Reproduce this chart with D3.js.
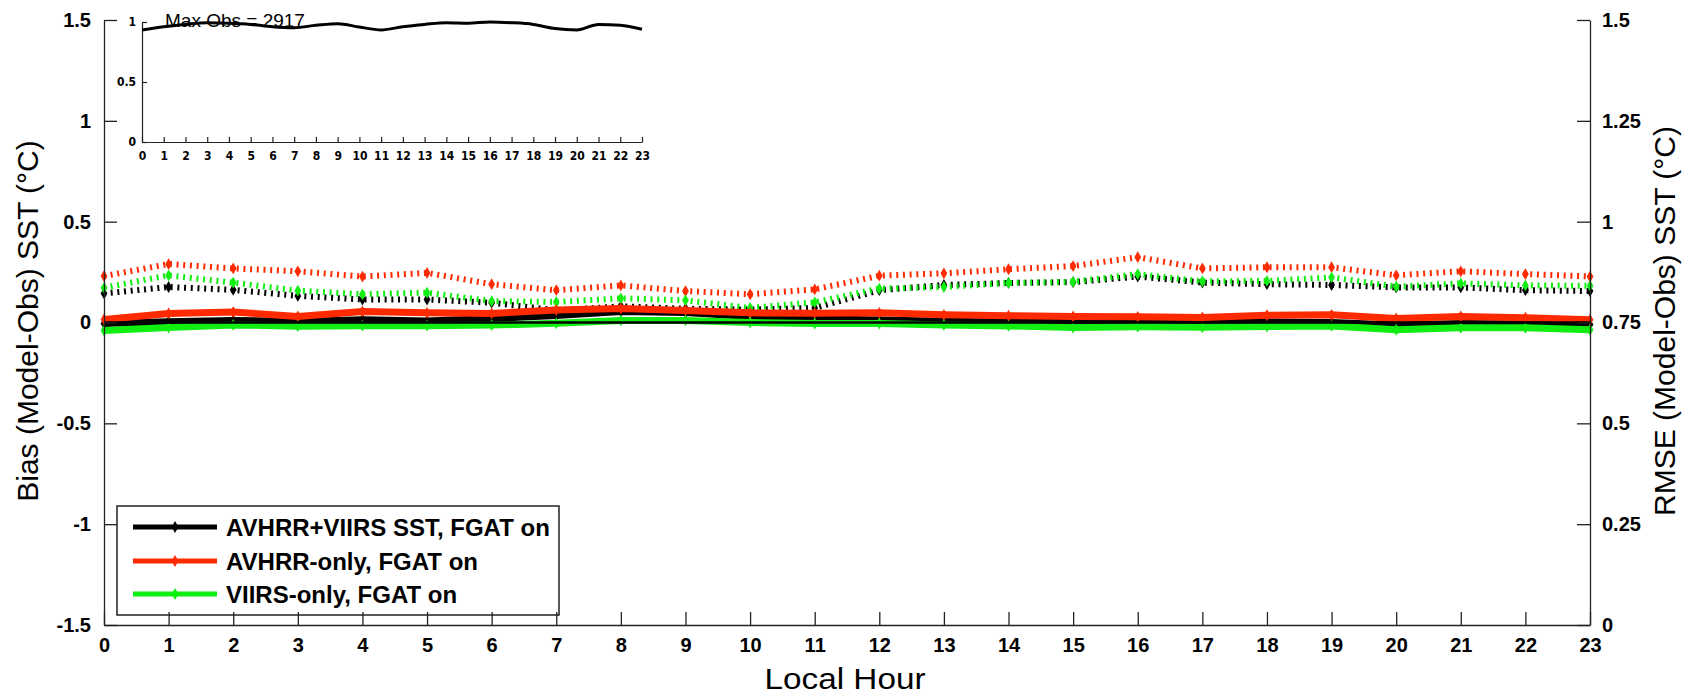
<!DOCTYPE html>
<html>
<head>
<meta charset="utf-8">
<script src="https://cdn.jsdelivr.net/npm/d3@7"></script>
<style>
  body { margin: 0; background: #fff; }
  svg { display: block; }
  text { font-family: "Liberation Sans", Arial, sans-serif; }
</style>
</head>
<body>
<div id="chart"></div>
<script>
let hours = [0, 1, 2, 3, 4, 5, 6, 7, 8, 9, 10, 11, 12, 13, 14, 15, 16, 17, 18, 19, 20, 21, 22, 23];

// bias (left axis), solid lines
let biasAll   = [-0.005, 0.004, 0.010, 0.005, 0.014, 0.008, 0.020, 0.035, 0.055, 0.050, 0.030, 0.018, 0.012, 0.006, 0.003, 0.000, 0.000, 0.000, 0.003, 0.000, -0.012, -0.005, -0.008, -0.010];
let biasAvhrr = [0.015, 0.045, 0.052, 0.030, 0.055, 0.048, 0.045, 0.062, 0.070, 0.060, 0.048, 0.046, 0.048, 0.038, 0.034, 0.030, 0.028, 0.025, 0.036, 0.038, 0.020, 0.030, 0.024, 0.014];
let biasViirs = [-0.040, -0.025, -0.012, -0.018, -0.016, -0.016, -0.013, -0.004, 0.010, 0.010, 0.000, -0.005, -0.005, -0.012, -0.017, -0.025, -0.021, -0.024, -0.020, -0.017, -0.036, -0.026, -0.026, -0.036];

// rmse (right axis), dotted lines
let rmseAll   = [0.822, 0.838, 0.831, 0.816, 0.807, 0.807, 0.799, 0.780, 0.790, 0.784, 0.782, 0.786, 0.830, 0.843, 0.848, 0.850, 0.864, 0.849, 0.845, 0.843, 0.837, 0.837, 0.830, 0.828];
let rmseAvhrr = [0.865, 0.895, 0.884, 0.877, 0.864, 0.873, 0.845, 0.830, 0.842, 0.828, 0.820, 0.832, 0.866, 0.872, 0.882, 0.890, 0.912, 0.884, 0.887, 0.887, 0.867, 0.877, 0.870, 0.864];
let rmseViirs = [0.836, 0.867, 0.849, 0.829, 0.820, 0.824, 0.803, 0.801, 0.810, 0.805, 0.786, 0.800, 0.834, 0.838, 0.848, 0.851, 0.870, 0.852, 0.853, 0.862, 0.839, 0.847, 0.842, 0.841];

// inset: fraction of max obs count
let obsFrac = [0.934, 0.961, 0.980, 0.994, 0.990, 0.980, 0.961, 0.953, 0.972, 0.986, 0.958, 0.934, 0.961, 0.980, 0.994, 0.990, 1.000, 0.994, 0.980, 0.945, 0.934, 0.980, 0.972, 0.939];
let maxObs = 2917;

let leftTicks = [-1.5, -1, -0.5, 0, 0.5, 1, 1.5];
let rightTicks = [0, 0.25, 0.5, 0.75, 1, 1.25, 1.5];
let insetYTicks = [0, 0.5, 1];

let seriesNames = ["AVHRR+VIIRS SST, FGAT on", "AVHRR-only, FGAT on", "VIIRS-only, FGAT on"];
let seriesColors = ["#000000", "#ff2a00", "#11ee11"];

let svg;

function init() {
  svg = d3
    .select("#chart")
    .append("svg")
    .attr("width", 1684)
    .attr("height", 695);
  draw();
}

function draw() {
  let x = d3.scaleLinear().domain([0, 23]).range([104, 1590]);
  let yL = d3.scaleLinear().domain([-1.5, 1.5]).range([625, 20]);
  let yR = d3.scaleLinear().domain([0, 1.5]).range([625, 20]);

  let bias = [biasAll, biasAvhrr, biasViirs];
  let rmse = [rmseAll, rmseAvhrr, rmseViirs];

  // rmse dotted lines
  rmse.forEach(function (vals, i) {
    let pts = hours.map((h, j) => [x(h), yR(vals[j])]);
    svg.append("path")
      .attr("d", d3.line()(pts))
      .attr("fill", "none")
      .attr("stroke", seriesColors[i])
      .attr("stroke-width", 6)
      .attr("stroke-dasharray", "2,4.7");
    drawMarkers(pts, seriesColors[i]);
  });

  // bias solid lines
  bias.forEach(function (vals, i) {
    let pts = hours.map((h, j) => [x(h), yL(vals[j])]);
    svg.append("path")
      .attr("d", d3.line()(pts))
      .attr("fill", "none")
      .attr("stroke", seriesColors[i])
      .attr("stroke-width", 7)
      .attr("stroke-linejoin", "round");
    drawMarkers(pts, seriesColors[i]);
  });

  // zero line
  svg.append("line")
    .attr("x1", x(0)).attr("x2", x(23))
    .attr("y1", yL(0)).attr("y2", yL(0))
    .attr("stroke", "#000")
    .attr("stroke-width", 2.5);

  drawLegend();

  // axes
  let bottom = svg.append("g")
    .attr("transform", "translate(0," + yL(-1.5) + ")")
    .call(d3.axisBottom(x).tickValues(hours).tickSizeInner(-13).tickSizeOuter(0).tickPadding(13).tickFormat(d => String(d)));
  let left = svg.append("g")
    .attr("transform", "translate(" + x(0) + ",0)")
    .call(d3.axisLeft(yL).tickValues(leftTicks).tickSizeInner(-13).tickSizeOuter(0).tickPadding(13).tickFormat(d => String(d)));
  let right = svg.append("g")
    .attr("transform", "translate(" + x(23) + ",0)")
    .call(d3.axisRight(yR).tickValues(rightTicks).tickSizeInner(-13).tickSizeOuter(0).tickPadding(12).tickFormat(d => String(d)));

  [bottom, left, right].forEach(function (g) {
    g.select(".domain").attr("stroke", "#222").attr("stroke-width", 1.3);
    g.selectAll(".tick line").attr("stroke", "#222").attr("stroke-width", 1.3);
    g.selectAll("text")
      .attr("fill", "#000")
      .style("font-family", "'Liberation Sans', Arial, sans-serif")
      .style("font-weight", "bold")
      .style("font-size", "20px");
  });

  // axis titles
  svg.append("text")
    .attr("transform", "translate(30,321) rotate(-90)")
    .attr("text-anchor", "middle")
    .attr("dominant-baseline", "middle")
    .style("font-size", "30px")
    .text("Bias (Model-Obs) SST (\u00b0C)");
  svg.append("text")
    .attr("transform", "translate(1667,321) rotate(-90)")
    .attr("text-anchor", "middle")
    .attr("dominant-baseline", "middle")
    .style("font-size", "30px")
    .text("RMSE (Model-Obs) SST (\u00b0C)");
  svg.append("text")
    .attr("x", 845)
    .attr("y", 689)
    .attr("text-anchor", "middle")
    .attr("textLength", 161)
    .attr("lengthAdjust", "spacingAndGlyphs")
    .style("font-size", "30px")
    .text("Local Hour");

  drawInset();
}

function drawMarkers(pts, color) {
  svg.append("g")
    .selectAll("path")
    .data(pts)
    .enter()
    .append("path")
    .attr("transform", d => "translate(" + d[0] + "," + d[1] + ")")
    .attr("d", d3.symbol().type(d3.symbolDiamond).size(40))
    .attr("fill", color);
}

function drawLegend() {
  let lg = svg.append("g");
  lg.append("rect")
    .attr("x", 117).attr("y", 506)
    .attr("width", 442).attr("height", 109)
    .attr("fill", "#fff")
    .attr("stroke", "#222")
    .attr("stroke-width", 1.5);
  let rows = [527, 561, 594];
  seriesNames.forEach(function (name, i) {
    lg.append("line")
      .attr("x1", 133).attr("x2", 217)
      .attr("y1", rows[i]).attr("y2", rows[i])
      .attr("stroke", seriesColors[i])
      .attr("stroke-width", 5);
    lg.append("path")
      .attr("transform", "translate(175," + rows[i] + ")")
      .attr("d", d3.symbol().type(d3.symbolDiamond).size(40))
      .attr("fill", seriesColors[i]);
    lg.append("text")
      .attr("x", 226)
      .attr("y", rows[i])
      .attr("dominant-baseline", "central")
      .style("font-size", "24px")
      .style("font-weight", "bold")
      .text(name);
  });
}

function drawInset() {
  let ix = d3.scaleLinear().domain([0, 23]).range([142, 642]);
  let iy = d3.scaleLinear().domain([0, 1]).range([142, 22]);
  let narrow = "'Liberation Sans Narrow', 'DejaVu Sans Condensed', sans-serif";

  let ib = svg.append("g")
    .attr("transform", "translate(0," + iy(0) + ")")
    .call(d3.axisBottom(ix).tickValues(hours).tickSizeInner(-5).tickSizeOuter(0).tickPadding(9).tickFormat(d => String(d)));
  let il = svg.append("g")
    .attr("transform", "translate(" + ix(0) + ",0)")
    .call(d3.axisLeft(iy).tickValues(insetYTicks).tickSizeInner(-5).tickSizeOuter(0).tickPadding(6).tickFormat(d => String(d)));
  [ib, il].forEach(function (g) {
    g.select(".domain").attr("stroke", "#222").attr("stroke-width", 1.2);
    g.selectAll(".tick line").attr("stroke", "#222").attr("stroke-width", 1.2);
    g.selectAll("text")
      .attr("fill", "#000")
      .style("font-family", narrow)
      .style("font-weight", "bold")
      .style("font-size", "12px");
  });

  svg.append("text")
    .attr("x", 165)
    .attr("y", 27)
    .style("font-size", "19px")
    .text("Max Obs = " + maxObs);

  let pts = hours.map((h, j) => [ix(h), iy(obsFrac[j])]);
  svg.append("path")
    .attr("d", d3.line().curve(d3.curveMonotoneX)(pts))
    .attr("fill", "none")
    .attr("stroke", "#000")
    .attr("stroke-width", 3);
}

init();
</script>
</body>
</html>
